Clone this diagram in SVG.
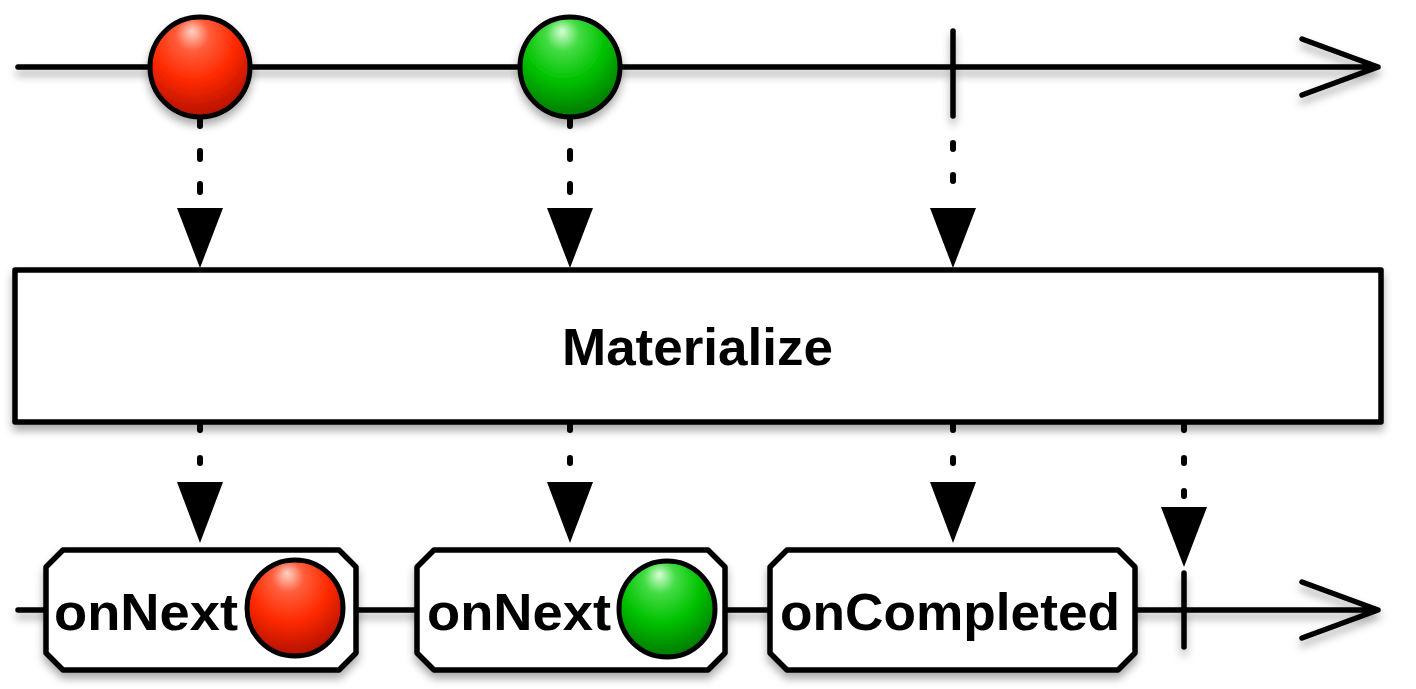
<svg xmlns="http://www.w3.org/2000/svg" width="1416" height="689" viewBox="0 0 1416 689">
<defs>
<filter id="sh" x="-10%" y="-30%" width="120%" height="160%">
<feDropShadow dx="0" dy="6" stdDeviation="4" flood-color="#000" flood-opacity="0.33"/>
</filter>
<radialGradient id="red" cx="0.45" cy="0.3" r="0.75" fx="0.42" fy="0.14">
<stop offset="0" stop-color="#ffd2c6"/>
<stop offset="0.22" stop-color="#ff5e3c"/>
<stop offset="0.55" stop-color="#ff2a00"/>
<stop offset="1" stop-color="#a80c00"/>
</radialGradient>
<radialGradient id="green" cx="0.45" cy="0.3" r="0.75" fx="0.42" fy="0.14">
<stop offset="0" stop-color="#d6ffd6"/>
<stop offset="0.22" stop-color="#44dc44"/>
<stop offset="0.55" stop-color="#00c200"/>
<stop offset="1" stop-color="#006e00"/>
</radialGradient>
<style>
.ln{stroke:#000;stroke-width:5.5;fill:none;stroke-linecap:round;stroke-linejoin:round}
.ds{stroke:#000;stroke-width:6;fill:none;stroke-linecap:round}
.box{fill:#fff;stroke:#000;stroke-width:5.5;stroke-linejoin:round}
.ball{stroke:#000;stroke-width:5}
.tx{font-family:"Liberation Sans",Arial,sans-serif;font-weight:bold;fill:#000}
</style>
</defs>
<rect width="1416" height="689" fill="#fff"/>

<g id="connectors">
<g filter="url(#sh)">
<path class="ln" d="M18 67 H1378 M1302 39 L1378 67 L1302 95"/>
<path class="ln" d="M953 31 V116"/>
<path class="ln" d="M18 610 H1378 M1302 582 L1378 610 L1302 638"/>
<path class="ln" d="M1184 573 V647"/>
</g>
<g>
<path class="ds" d="M200 118 V205" stroke-dasharray="8 25"/>
<path class="ds" d="M570 118 V205" stroke-dasharray="8 25"/>
<path class="ds" d="M953 143 V205" stroke-dasharray="6 26"/>
<path class="ds" d="M200 425 V480" stroke-dasharray="5 28"/>
<path class="ds" d="M570 425 V480" stroke-dasharray="5 28"/>
<path class="ds" d="M953 425 V480" stroke-dasharray="5 28"/>
<path class="ds" d="M1184 425 V505" stroke-dasharray="5 28"/>
<polygon points="177,208 223,208 200,268"/>
<polygon points="547,208 593,208 570,268"/>
<polygon points="930,208 976,208 953,268"/>
<polygon points="177,482 223,482 200,543"/>
<polygon points="547,482 593,482 570,543"/>
<polygon points="930,482 976,482 953,543"/>
<polygon points="1161,507 1207,507 1184,567"/>
</g>
</g>

<g id="src-red" filter="url(#sh)">
<circle class="ball" cx="200" cy="67" r="50" fill="url(#red)"/>
</g>
<g id="src-green" filter="url(#sh)">
<circle class="ball" cx="570" cy="67" r="50" fill="url(#green)"/>
</g>

<g id="materialize">
<rect class="box" x="15" y="270" width="1366" height="152" filter="url(#sh)"/>
<text class="tx" x="562" y="365" font-size="52" textLength="271" lengthAdjust="spacingAndGlyphs">Materialize</text>
</g>

<g id="onnext-red">
<path class="box" filter="url(#sh)" d="M63 550 H339 L356 567 V653 L339 670 H63 L46 653 V567 Z"/>
<text class="tx" x="54" y="630" font-size="52" textLength="184" lengthAdjust="spacingAndGlyphs">onNext</text>
<circle class="ball" cx="295" cy="608" r="48" fill="url(#red)"/>
</g>

<g id="onnext-green">
<path class="box" filter="url(#sh)" d="M434 550 H708 L725 567 V653 L708 670 H434 L417 653 V567 Z"/>
<text class="tx" x="427" y="630" font-size="52" textLength="184" lengthAdjust="spacingAndGlyphs">onNext</text>
<circle class="ball" cx="667" cy="609" r="48" fill="url(#green)"/>
</g>

<g id="oncompleted">
<path class="box" filter="url(#sh)" d="M787 550 H1118 L1135 567 V653 L1118 670 H787 L770 653 V567 Z"/>
<text class="tx" x="780" y="630" font-size="52" textLength="340" lengthAdjust="spacingAndGlyphs">onCompleted</text>
</g>
</svg>
